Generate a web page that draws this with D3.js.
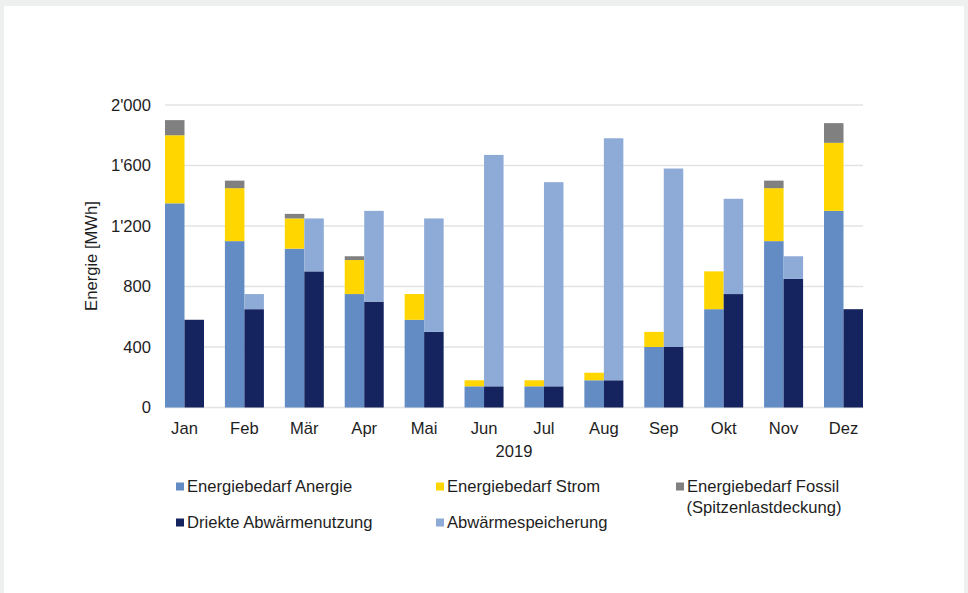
<!DOCTYPE html>
<html>
<head>
<meta charset="utf-8">
<script src="https://cdn.jsdelivr.net/npm/d3@7"></script>
<style>
  html, body { margin: 0; padding: 0; background: #eef0ef; }
  svg { display: block; }
  text { font-family: "Liberation Sans", Arial, sans-serif; fill: #1e1e1e; }
</style>
</head>
<body>
<script>
// months and series values in MWh
const months = ["Jan", "Feb", "Mär", "Apr", "Mai", "Jun", "Jul", "Aug", "Sep", "Okt", "Nov", "Dez"];
const anergie = [1350, 1100, 1050, 750, 580, 140, 140, 180, 400, 650, 1100, 1300];
const strom = [450, 350, 200, 225, 170, 40, 40, 50, 100, 250, 350, 450];
const fossil = [100, 50, 30, 25, 0, 0, 0, 0, 0, 0, 50, 130];
const direkt = [580, 650, 900, 700, 500, 140, 140, 180, 400, 750, 850, 650];
const speicher = [0, 100, 350, 600, 750, 1530, 1350, 1600, 1180, 630, 150, 0];
const yTicks = [0, 400, 800, 1200, 1600, 2000];

const W = 968, H = 593;
const plotLeft = 165, plotRight = 863, plotTop = 105, plotBottom = 407.5;
const fontSize = "16.6px";

const svg = d3.select("body").append("svg")
  .attr("width", W)
  .attr("height", H);

// white card on the grey page
svg.append("rect")
  .attr("x", 4).attr("y", 6)
  .attr("width", 960).attr("height", H - 6)
  .attr("fill", "#ffffff");

const x = d3.scaleBand().domain(months).range([plotLeft, plotRight]).paddingInner(0.349).paddingOuter(0);
const sub = d3.scaleBand().domain(["bedarf", "abwaerme"]).range([0, x.bandwidth()]);
const y = d3.scaleLinear().domain([0, 2000]).range([plotBottom, plotTop]);

const fmt = v => d3.format(",")(v).replace(/,/g, "'");

// gridlines
svg.append("g")
  .selectAll("line")
  .data(yTicks)
  .join("line")
  .attr("x1", plotLeft).attr("x2", plotRight)
  .attr("y1", d => y(d)).attr("y2", d => y(d))
  .attr("stroke", "#e3e3e3")
  .attr("stroke-width", 1.3);

// y tick labels
svg.append("g")
  .selectAll("text")
  .data(yTicks)
  .join("text")
  .attr("x", 151)
  .attr("y", d => y(d))
  .attr("dy", "0.36em")
  .attr("text-anchor", "end")
  .style("font-size", fontSize)
  .text(fmt);

// stacks
const groups = [
  { key: "bedarf", series: [
    { name: "Energiebedarf Anergie", values: anergie, color: "#638cc4" },
    { name: "Energiebedarf Strom", values: strom, color: "#ffd600" },
    { name: "Energiebedarf Fossil", values: fossil, color: "#808080" }
  ]},
  { key: "abwaerme", series: [
    { name: "Driekte Abwärmenutzung", values: direkt, color: "#15235f" },
    { name: "Abwärmespeicherung", values: speicher, color: "#8eaad6" }
  ]}
];

groups.forEach(g => {
  const rows = months.map((m, i) => {
    const r = { month: m };
    g.series.forEach(s => { r[s.name] = s.values[i]; });
    return r;
  });
  const stacked = d3.stack().keys(g.series.map(s => s.name))(rows);
  svg.append("g")
    .selectAll("g")
    .data(stacked)
    .join("g")
    .attr("fill", (d, i) => g.series[i].color)
    .selectAll("rect")
    .data(d => d.filter(p => p[1] > p[0]))
    .join("rect")
    .attr("x", d => x(d.data.month) + sub(g.key))
    .attr("y", d => y(d[1]))
    .attr("width", sub.bandwidth())
    .attr("height", d => y(d[0]) - y(d[1]));
});

// month labels
svg.append("g")
  .selectAll("text")
  .data(months)
  .join("text")
  .attr("x", d => x(d) + x.bandwidth() / 2)
  .attr("y", 434)
  .attr("text-anchor", "middle")
  .style("font-size", fontSize)
  .text(d => d);

svg.append("text")
  .attr("x", 514).attr("y", 457)
  .attr("text-anchor", "middle")
  .style("font-size", fontSize)
  .text("2019");

svg.append("text")
  .attr("transform", "translate(97,256) rotate(-90)")
  .attr("text-anchor", "middle")
  .style("font-size", fontSize)
  .text("Energie [MWh]");

// legend
const legendItems = [
  { label: ["Energiebedarf Anergie"], color: "#638cc4", lx: 176, ly: 491.5 },
  { label: ["Energiebedarf Strom"], color: "#ffd600", lx: 436, ly: 491.5 },
  { label: ["Energiebedarf Fossil", "(Spitzenlastdeckung)"], color: "#808080", lx: 676, ly: 491.5 },
  { label: ["Driekte Abwärmenutzung"], color: "#15235f", lx: 176, ly: 527.5 },
  { label: ["Abwärmespeicherung"], color: "#8eaad6", lx: 436, ly: 527.5 }
];

const lg = svg.append("g")
  .selectAll("g")
  .data(legendItems)
  .join("g")
  .attr("transform", d => `translate(${d.lx},${d.ly})`);

lg.append("rect")
  .attr("x", 0).attr("y", -9)
  .attr("width", 8).attr("height", 8)
  .attr("fill", d => d.color);

lg.append("text")
  .style("font-size", fontSize)
  .selectAll("tspan")
  .data(d => d.label)
  .join("tspan")
  .attr("x", (d, i) => i === 0 ? 11 : 10.5)
  .attr("y", (d, i) => i * 21)
  .text(d => d);
</script>
</body>
</html>
